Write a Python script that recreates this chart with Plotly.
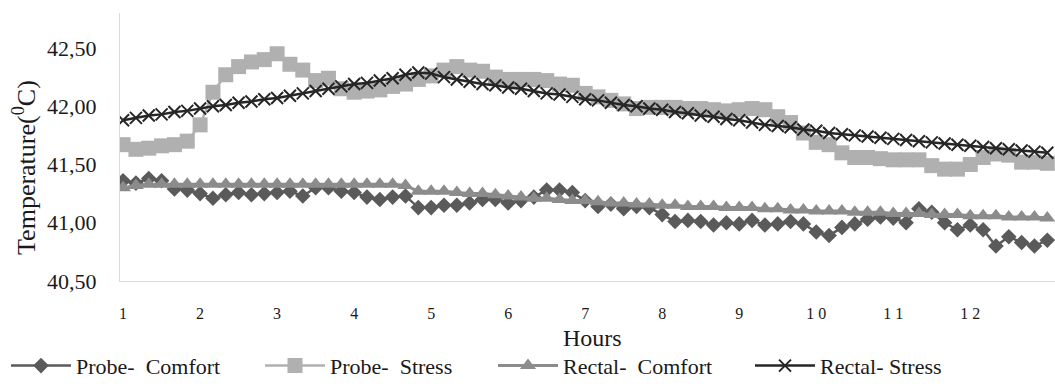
import plotly.graph_objects as go

# ---- data ----
# categories: one reading every 10 minutes from hour 1 to hour 13 (73 readings)
categories = list(range(73))
tick_positions = [0, 6, 12, 18, 24, 30, 36, 42, 48, 54, 60, 66]
tick_labels = ["1", "2", "3", "4", "5", "6", "7", "8", "9", "1 0", "1 1", "1 2"]
y_ticks = [40.5, 41.0, 41.5, 42.0, 42.5]
y_tick_labels = ["40,50", "41,00", "41,50", "42,00", "42,50"]

probe_comfort = [
    41.36, 41.34, 41.38, 41.36, 41.29, 41.28,
    41.25, 41.21, 41.24, 41.26, 41.24, 41.25,
    41.26, 41.27, 41.23, 41.30, 41.30, 41.27,
    41.26, 41.22, 41.20, 41.22, 41.23, 41.13,
    41.13, 41.15, 41.15, 41.17, 41.20, 41.20,
    41.17, 41.19, 41.22, 41.28, 41.28, 41.26,
    41.19, 41.14, 41.16, 41.12, 41.14, 41.13,
    41.07, 41.01, 41.02, 41.01, 40.98, 41.00,
    40.99, 41.02, 40.98, 40.99, 41.01, 40.99,
    40.92, 40.89, 40.96, 40.99, 41.03, 41.05,
    41.04, 41.00, 41.12, 41.09, 41.00, 40.94,
    40.98, 40.94, 40.80, 40.88, 40.83, 40.80,
    40.85,
]

probe_stress = [
    41.67, 41.63, 41.64, 41.66, 41.67, 41.70,
    41.84, 42.12, 42.27, 42.34, 42.38, 42.40,
    42.45, 42.36, 42.31, 42.22, 42.24, 42.15,
    42.12, 42.13, 42.14, 42.17, 42.19, 42.23,
    42.26, 42.31, 42.34, 42.31, 42.30, 42.25,
    42.23, 42.23, 42.23, 42.22, 42.19, 42.18,
    42.11, 42.08, 42.05, 42.02, 41.98, 41.99,
    41.99, 41.99, 41.98, 41.98, 41.97, 41.96,
    41.97, 41.98, 41.97, 41.91, 41.86, 41.77,
    41.69, 41.67, 41.60, 41.56, 41.56, 41.55,
    41.54, 41.54, 41.54, 41.49, 41.46, 41.46,
    41.50, 41.56, 41.59, 41.58, 41.52, 41.52,
    41.51,
]

rectal_comfort = [
    41.30, 41.32, 41.33, 41.33, 41.33, 41.33,
    41.33, 41.33, 41.33, 41.33, 41.33, 41.33,
    41.33, 41.33, 41.33, 41.33, 41.33, 41.33,
    41.33, 41.33, 41.33, 41.33, 41.32, 41.27,
    41.27, 41.27, 41.26, 41.25, 41.25, 41.24,
    41.23, 41.22, 41.21, 41.21, 41.20, 41.19,
    41.19, 41.18, 41.17, 41.17, 41.16, 41.16,
    41.15, 41.15, 41.14, 41.14, 41.14, 41.13,
    41.13, 41.13, 41.12, 41.12, 41.11, 41.11,
    41.10, 41.10, 41.10, 41.09, 41.09, 41.09,
    41.08, 41.08, 41.08, 41.07, 41.07, 41.07,
    41.06, 41.06, 41.06, 41.05, 41.05, 41.05,
    41.04,
]

rectal_stress = [
    41.88, 41.90, 41.92, 41.93, 41.95, 41.96,
    41.98, 42.00, 42.01, 42.03, 42.04, 42.06,
    42.07, 42.09, 42.11, 42.13, 42.15, 42.17,
    42.19, 42.20, 42.22, 42.24, 42.27, 42.29,
    42.28, 42.25, 42.23, 42.21, 42.19, 42.18,
    42.16, 42.15, 42.13, 42.11, 42.10, 42.08,
    42.06, 42.05, 42.03, 42.01, 42.00, 41.98,
    41.97, 41.95, 41.94, 41.92, 41.91, 41.89,
    41.88, 41.86, 41.84, 41.83, 41.82, 41.80,
    41.79, 41.77, 41.76, 41.75, 41.74, 41.73,
    41.72, 41.71, 41.70, 41.69, 41.68, 41.67,
    41.66, 41.65, 41.64, 41.63, 41.62, 41.61,
    41.60,
]

FONT = "Liberation Serif"
TEXT = "#1a1a1a"

fig = go.Figure()
fig.add_trace(go.Scatter(
    x=categories, y=probe_comfort, mode="lines+markers",
    name="Probe-\u00a0 Comfort", legend="legend",
    line=dict(color="#5a5a5a", width=2.5),
    marker=dict(symbol="diamond", size=12, color="#5a5a5a"),
))
fig.add_trace(go.Scatter(
    x=categories, y=probe_stress, mode="lines+markers",
    name="Probe-\u00a0 Stress", legend="legend2",
    line=dict(color="#b0b0b0", width=2.5),
    marker=dict(symbol="square", size=15, color="#b0b0b0"),
))
fig.add_trace(go.Scatter(
    x=categories, y=rectal_comfort, mode="lines+markers",
    name="Rectal-\u00a0 Comfort", legend="legend3",
    line=dict(color="#8c8c8c", width=3),
    marker=dict(symbol="triangle-up", size=14, color="#8c8c8c"),
))
fig.add_trace(go.Scatter(
    x=categories, y=rectal_stress, mode="lines+markers",
    name="Rectal- Stress", legend="legend4",
    line=dict(color="#262626", width=2.5),
    marker=dict(symbol="x-thin-open", size=12, color="#262626",
                line=dict(color="#262626", width=2)),
))

PLOT_L, PLOT_W = 120, 935
PLOT_B, PLOT_H = 288, 275


def legend_at(px_left):
    return dict(
        orientation="h",
        x=(px_left - PLOT_L) / PLOT_W, xanchor="left",
        y=(PLOT_B - 375) / PLOT_H, yanchor="middle",
        font=dict(family=FONT, size=22, color=TEXT),
        itemwidth=60, bgcolor="rgba(0,0,0,0)",
    )


fig.update_layout(
    width=1055, height=387,
    margin=dict(l=PLOT_L, r=0, t=13, b=99),
    paper_bgcolor="white", plot_bgcolor="white",
    font=dict(family=FONT, color=TEXT),
    showlegend=True,
    legend=legend_at(6),
    legend2=legend_at(260),
    legend3=legend_at(493),
    legend4=legend_at(750),
    xaxis=dict(
        range=[-0.24, 72.6], showgrid=False, zeroline=False,
        showline=True, linecolor="#d9d9d9", linewidth=1,
        tickmode="array", tickvals=tick_positions, ticktext=tick_labels,
        ticks="", tickfont=dict(family=FONT, size=16, color=TEXT),
        ticklabelstandoff=18,
    ),
    yaxis=dict(
        range=[40.5, 42.8], showgrid=False, zeroline=False,
        showline=True, linecolor="#d9d9d9", linewidth=1,
        tickmode="array", tickvals=y_ticks, ticktext=y_tick_labels,
        ticks="", tickfont=dict(family=FONT, size=22, color=TEXT),
        ticklabelstandoff=18,
    ),
    annotations=[
        dict(text="Hours", xref="paper", yref="paper", x=0.505,
             y=(PLOT_B - 346) / PLOT_H,
             xanchor="center", yanchor="middle", showarrow=False,
             font=dict(family=FONT, size=24, color=TEXT)),
        dict(text="Temperature(<sup>0</sup>C)", xref="paper", yref="paper",
             x=(25 - PLOT_L) / PLOT_W, y=(PLOT_B - 172) / PLOT_H,
             xanchor="center", yanchor="middle",
             textangle=-90, showarrow=False,
             font=dict(family=FONT, size=26, color=TEXT)),
    ],
)

fig.write_html("out.html")
